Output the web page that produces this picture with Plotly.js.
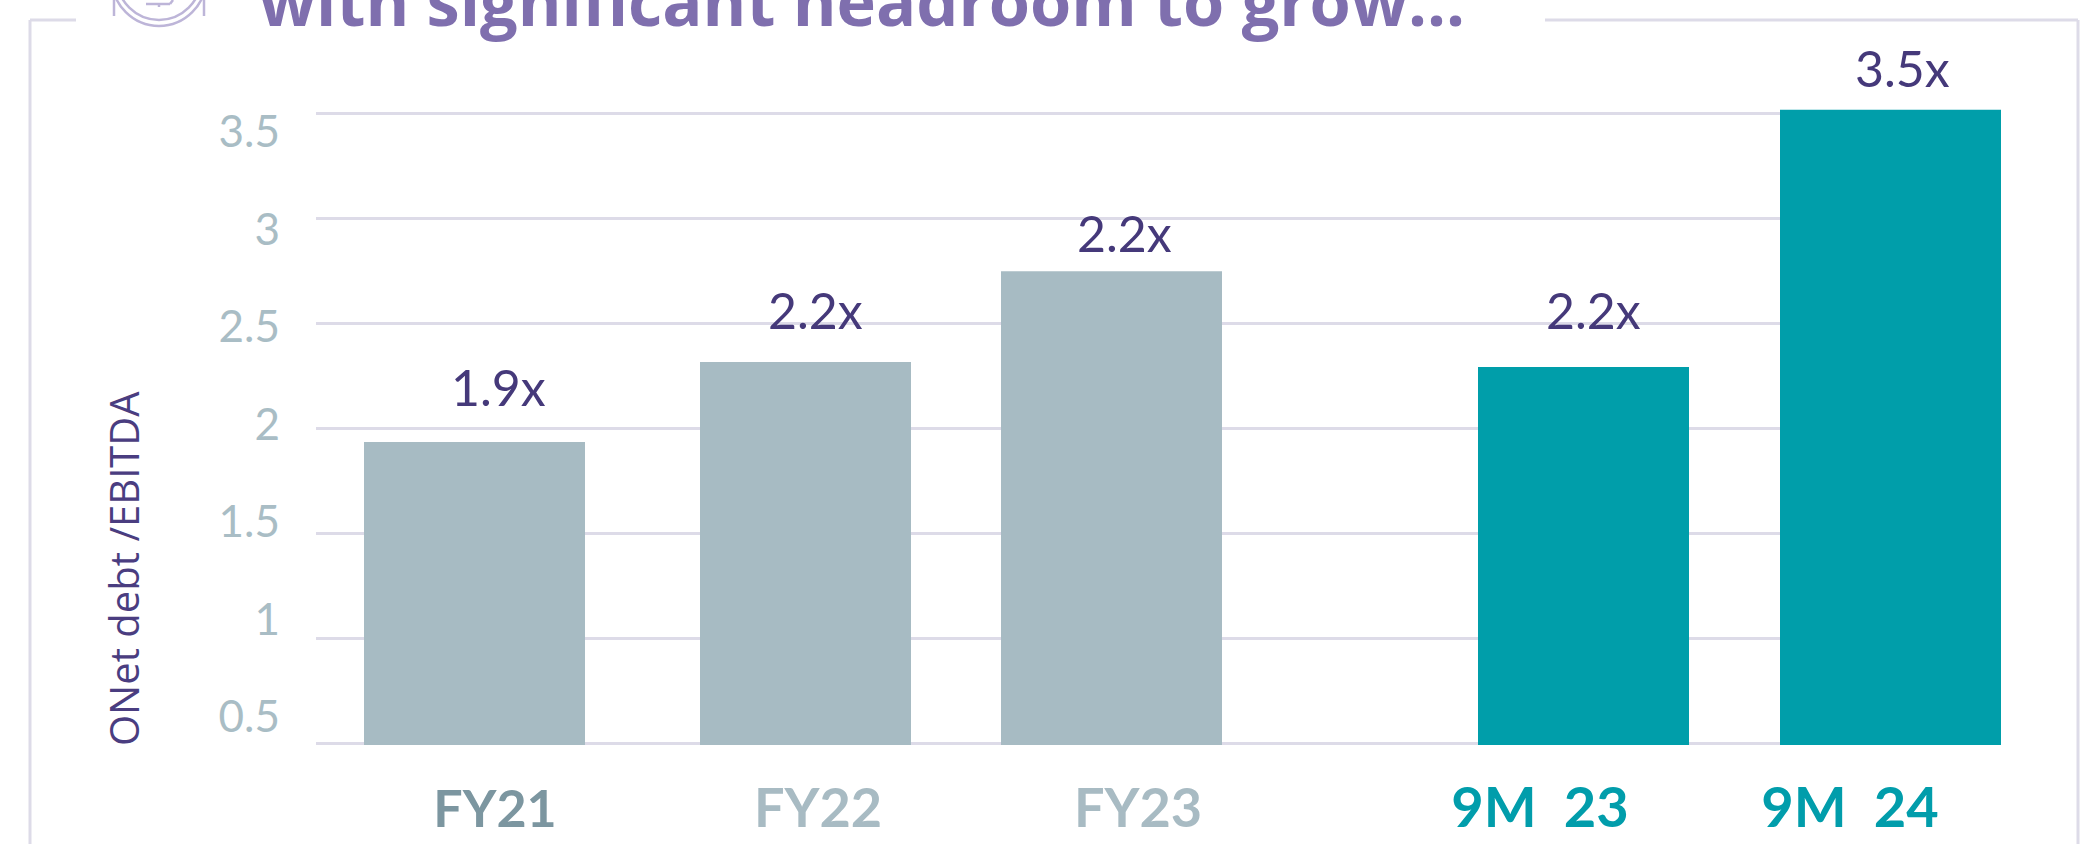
<!DOCTYPE html>
<html><head><meta charset="utf-8">
<script src="https://cdn.plot.ly/plotly-3.0.1.min.js"></script>
<style>html,body{margin:0;padding:0;background:#fff}#c{width:2084px;height:844px}</style>
</head><body><div id="c"></div>
<script>
const categories = ["FY21","FY22","FY23","9M  23","9M  24"];
const barHeights = [1.935,2.317,2.75,2.293,3.52];
const barLabels = ["1.9x","2.2x","2.2x","2.2x","3.5x"];
const yTicks = [0.5,1,1.5,2,2.5,3,3.5];
const yTickLabels = ["0.5","1","1.5","2","2.5","3","3.5"];
const yAxisTitle = "ONet debt /EBITDA";
const headline = "with significant headroom to grow...";

const barCentres = [474.5,805.5,1111.5,1583.5,1890.5];
const barWidths = [221,211,221,211,221];
const catCentres = [495,818,1138,1540,1850];
const catColours = ["#7c96a0","#a8bbc3","#a8bbc3","#019dab","#019dab"];
const catSizes = [52,54,54,56,56];
const labelCentres = [498,815,1124,1593,1902];
const labelLevels = [2.2,2.565,2.93,2.565,3.72];
const barColours = ["#a7bbc3","#a7bbc3","#a7bbc3","#009eaa","#009eaa"];

const W=2084,H=844,L=316,R=2001,T=40,B=745;
const px=x=>(x-L)/(R-L), py=y=>(B-y)/(B-T);
const frame='#dddbe8', icon='#bdb5d8';
const seg=(x0,y0,x1,y1,c,w)=>({type:'line',xref:'paper',yref:'paper',x0:px(x0),y0:py(y0),x1:px(x1),y1:py(y1),line:{color:c,width:w}});
const circ=(cx,cy,r,c,w)=>({type:'circle',xref:'paper',yref:'paper',x0:px(cx-r),x1:px(cx+r),y0:py(cy+r),y1:py(cy-r),line:{color:c,width:w}});

const shapes=[
 seg(30,20,76,20,frame,3),seg(30,20,30,844,frame,3),
 seg(1545,20,2078,20,frame,3),seg(2078,20,2078,844,frame,3),
 circ(159,-21,47,icon,2.5),circ(159,-22,42,icon,2.5),
 seg(114,0,114,16,icon,2.5),seg(204,0,204,16,icon,2.5),
 seg(146,4,170,4,icon,2.5),seg(159,4,159,7,icon,2.5),seg(170,4,173,0,icon,2.5)
];

const annotations=barLabels.map((t,i)=>({xref:'x',yref:'y',x:labelCentres[i],y:labelLevels[i],text:t,showarrow:false,xanchor:'center',yanchor:'middle',font:{family:'Lato',size:50,color:'#45397a'}}));
annotations.push({xref:'paper',yref:'paper',x:px(123),y:py(569),text:yAxisTitle,textangle:-90,showarrow:false,xanchor:'center',yanchor:'middle',font:{family:'"Open Sans"',size:40,color:'#4a3d80'}});

Plotly.newPlot('c',[{
  type:'bar',x:barCentres,y:barHeights,width:barWidths,marker:{color:barColours,line:{width:0}},name:'Net debt / EBITDA',hoverinfo:'x+y',customdata:categories
},{
  type:'scatter',mode:'markers',x:yTicks.map(()=>L),y:yTicks,yaxis:'y2',marker:{opacity:0,size:1},hoverinfo:'skip',showlegend:false
}],{
  width:W,height:H,showlegend:false,paper_bgcolor:'#fff',plot_bgcolor:'#fff',
  margin:{l:L,r:W-R,t:T,b:H-B,pad:0},
  title:{text:'<b>'+headline+'</b>',x:259/W,xanchor:'left',y:1-26/H,yanchor:'bottom',font:{family:'"Open Sans"',size:66.7,color:'#7f6fae'},pad:{t:0,b:0,l:0,r:0}},
  xaxis:{type:'linear',range:[L,R],tickmode:'array',tickvals:catCentres,
    ticktext:categories.map((c,i)=>`<span style="color:${catColours[i]};font-size:${catSizes[i]}px"><b>${c}</b></span>`),
    ticks:'',showgrid:false,zeroline:false,showline:false,ticklabelstandoff:29,
    tickfont:{family:'Lato',size:52,color:'#a8bbc3'}},
  yaxis:{range:[0.5-2/209.7,0.5+703/209.7],tickmode:'array',tickvals:yTicks,showticklabels:false,ticks:'',
    showgrid:true,gridcolor:frame,gridwidth:3,zeroline:false,showline:false},
  yaxis2:{overlaying:'y',side:'left',anchor:'x',range:[0.5-28/195,0.5+677/195],tickmode:'array',tickvals:yTicks,ticktext:yTickLabels,
    showgrid:false,zeroline:false,showline:false,ticks:'',ticklabelstandoff:35,
    tickfont:{family:'Lato',size:44,color:'#a9bdc5'}},
  shapes,annotations
},{staticPlot:true});
</script></body></html>
